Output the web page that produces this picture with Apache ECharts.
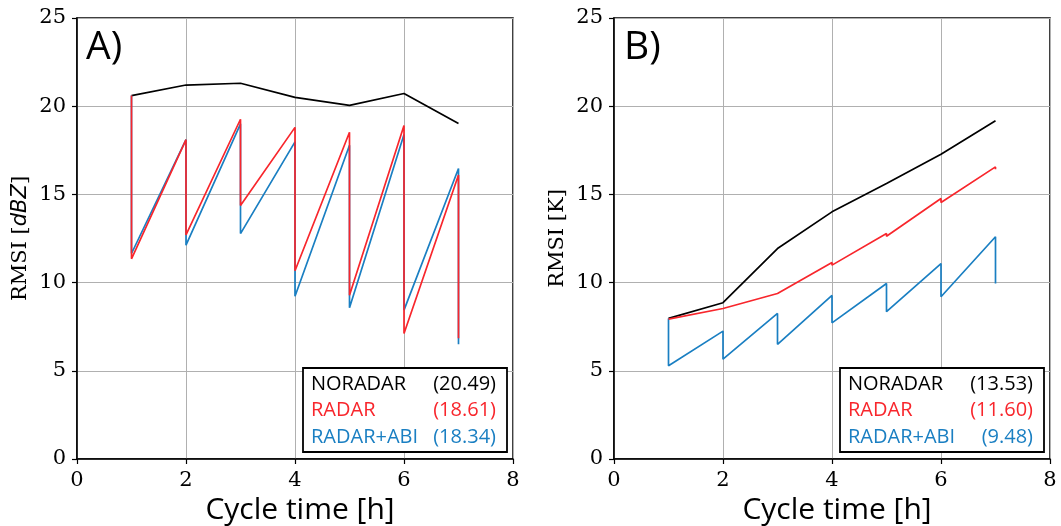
<!DOCTYPE html>
<html>
<head>
<meta charset="utf-8">
<script src="https://cdn.jsdelivr.net/npm/echarts@6/dist/echarts.min.js"></script>
<style>
html,body{margin:0;padding:0;background:#fff;}
#c{width:1061px;height:526px;}
</style>
</head>
<body>
<div id="c"></div>
<script>
// ---- Data ----
// Each sawtooth series: at each cycle hour, forecast value then analysis value
var xTicks = [0, 2, 4, 6, 8];
var yTicks = [0, 5, 10, 15, 20, 25];
var seriesNames = ['NORADAR', 'RADAR', 'RADAR+ABI'];

// Panel A (dBZ)
var aNoradarX = [1, 2, 3, 4, 5, 6, 7];
var aNoradarY = [20.6, 21.2, 21.3, 20.5, 20.05, 20.72, 19.02];
var aRadarX = [1, 1, 2, 2, 3, 3, 4, 4, 5, 5, 6, 6, 7, 7];
var aRadarY = [20.6, 11.35, 18.1, 12.7, 19.26, 14.37, 18.8, 10.67, 18.52, 9.28, 18.9, 7.12, 16.1, 6.84];
var aAbiX = [1, 1, 2, 2, 3, 3, 4, 4, 5, 5, 6, 6, 7, 7];
var aAbiY = [20.6, 11.65, 18.1, 12.12, 19.0, 12.78, 17.98, 9.23, 17.79, 8.57, 18.39, 8.44, 16.47, 6.51];
var aMeans = ['(20.49)', '(18.61)', '(18.34)'];

// Panel B (K)
var bNoradarX = [1, 2, 3, 4, 5, 6, 7];
var bNoradarY = [7.97, 8.86, 11.93, 14.01, 15.62, 17.28, 19.17];
var bRadarX = [1, 2, 2, 3, 3, 4, 4, 5, 5, 6, 6, 7, 7];
var bRadarY = [7.93, 8.53, 8.53, 9.38, 9.29, 11.14, 10.99, 12.78, 12.63, 14.77, 14.54, 16.56, 16.43];
var bAbiX = [1, 1, 2, 2, 3, 3, 4, 4, 5, 5, 6, 6, 7, 7];
var bAbiY = [7.97, 5.29, 7.25, 5.66, 8.25, 6.5, 9.27, 7.72, 9.95, 8.35, 11.08, 9.2, 12.6, 9.95];
var bMeans = ['(13.53)', '(11.60)', '(9.48)'];

var panelLabels = ['A)', 'B)'];
var yLabels = ['RMSI [{it|dBZ}]', 'RMSI [K]'];
var xLabel = 'Cycle time [h]';

// ---- Styling / layout ----
var colors = ['#000000', '#f8262c', '#1a7fc2'];
var grids = [
  {left: 77, top: 18, width: 436, height: 441},
  {left: 614, top: 18, width: 436, height: 441}
];
var sansFont = '"Open Sans", "Noto Sans", sans-serif';
var serifFont = '"DejaVu Serif", serif';

function zip(xs, ys) { return xs.map(function (x, i) { return [x, ys[i]]; }); }

var chart = echarts.init(document.getElementById('c'), null, {renderer: 'canvas'});

var xAxes = [], yAxes = [], series = [], graphics = [];
var panels = [
  {data: [zip(aNoradarX, aNoradarY), zip(aRadarX, aRadarY), zip(aAbiX, aAbiY)], means: aMeans},
  {data: [zip(bNoradarX, bNoradarY), zip(bRadarX, bRadarY), zip(bAbiX, bAbiY)], means: bMeans}
];

panels.forEach(function (p, k) {
  xAxes.push({
    gridIndex: k, type: 'value', min: xTicks[0], max: xTicks[xTicks.length - 1], interval: 2,
    name: xLabel, nameLocation: 'middle', nameGap: 33,
    nameTextStyle: {fontFamily: sansFont, fontSize: 30, color: '#000', padding: [0, 0, 0, 10]},
    axisLine: {show: true, onZero: false, lineStyle: {color: '#000', width: 1.5}},
    axisTick: {show: true, length: 5, lineStyle: {color: '#000', width: 1.2}},
    axisLabel: {fontFamily: serifFont, fontSize: 21, color: '#000', margin: 11},
    splitLine: {show: true, lineStyle: {color: '#b0b0b0', width: 1}}
  });
  yAxes.push({
    gridIndex: k, type: 'value', min: yTicks[0], max: yTicks[yTicks.length - 1], interval: 5,
    name: yLabels[k], nameLocation: 'middle', nameGap: 46, nameRotate: 90,
    nameTextStyle: {fontFamily: serifFont, fontSize: 21, color: '#000',
      rich: {it: {fontFamily: '"DejaVu Sans", sans-serif', fontStyle: 'italic', fontSize: 21, color: '#000'}}},
    axisLine: {show: true, onZero: false, lineStyle: {color: '#000', width: 1.5}},
    axisTick: {show: true, length: 5, lineStyle: {color: '#000', width: 1.2}},
    axisLabel: {fontFamily: serifFont, fontSize: 21, color: '#000', margin: 11},
    splitLine: {show: true, lineStyle: {color: '#b0b0b0', width: 1}}
  });
  // draw order: NORADAR, RADAR+ABI, RADAR (red on top)
  [0, 2, 1].forEach(function (s, z) {
    series.push({
      name: seriesNames[s], type: 'line', xAxisIndex: k, yAxisIndex: k,
      data: p.data[s], showSymbol: false, symbol: 'none', animation: false,
      z: 3 + z,
      lineStyle: {color: colors[s], width: 1.7}
    });
  });

  var g = grids[k];
  var right = g.left + g.width, bottom = g.top + g.height;
  // panel label
  graphics.push({
    type: 'text', left: g.left + 9 + (k ? 1 : 0), top: g.top + 10, z: 10,
    style: {text: panelLabels[k], font: '39px ' + sansFont, fill: '#000'}
  });
  // legend box
  var bw = 204, bh = 84;
  var bx = right - 6 - bw, by = bottom - 7 - bh;
  graphics.push({
    type: 'rect', z: 10,
    shape: {x: bx, y: by, width: bw, height: bh},
    style: {fill: '#fff', stroke: '#000', lineWidth: 1.8}
  });
  for (var i = 0; i < 3; i++) {
    graphics.push({
      type: 'text', z: 11,
      x: bx + 8, y: by + 16 + i * 26.7,
      style: {text: seriesNames[i], font: '20px ' + sansFont, fill: colors[i], verticalAlign: 'middle', align: 'left'}
    });
    graphics.push({
      type: 'text', z: 11,
      x: bx + bw - 11, y: by + 16 + i * 26.7,
      style: {text: p.means[i], font: '20px ' + sansFont, fill: colors[i], verticalAlign: 'middle', align: 'right'}
    });
  }
});

chart.setOption({
  animation: false,
  backgroundColor: '#fff',
  grid: grids.map(function (g) {
    return {left: g.left, top: g.top, width: g.width, height: g.height, show: true,
      outerBoundsMode: 'none',
      borderColor: '#000', borderWidth: 1.5, backgroundColor: 'transparent', containLabel: false};
  }),
  xAxis: xAxes,
  yAxis: yAxes,
  series: series,
  graphic: graphics
});
</script>
</body>
</html>
